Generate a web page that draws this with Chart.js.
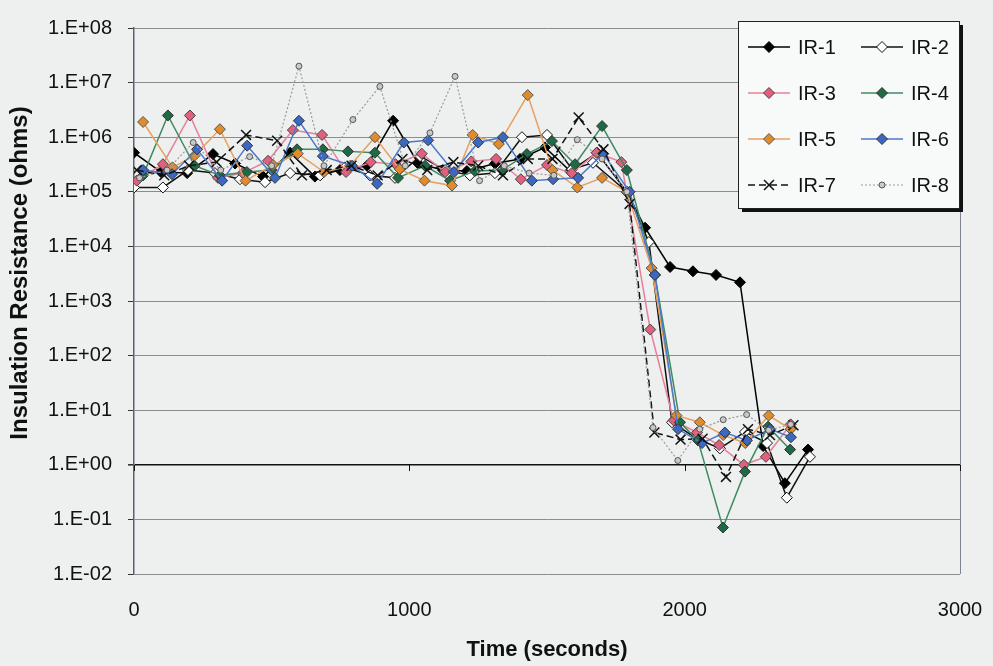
<!DOCTYPE html>
<html>
<head>
<meta charset="utf-8">
<script src="https://cdn.jsdelivr.net/npm/chart.js@4.4.0/dist/chart.umd.min.js"></script>
<style>
	html, body { margin: 0; padding: 0; background: #eef0f0; }
	#root { width: 993px; height: 666px; }
</style>
</head>
<body>
<div id="root"><canvas id="main-chart" width="993" height="666"></canvas></div>
<script>
// readings, time in seconds / resistance in ohms
var seriesNames = ['IR-1', 'IR-2', 'IR-3', 'IR-4', 'IR-5', 'IR-6', 'IR-7', 'IR-8'];

var ir1Time = [0, 98, 193, 287, 367, 469, 567, 657, 748, 846, 941, 1032, 1122, 1209, 1311, 1402, 1493, 1584, 1682, 1790, 1856, 1947, 2030, 2114, 2201, 2285, 2364, 2448];
var ir1Ohms = [5.2e5, 2.3e5, 2.2e5, 4.9e5, 3.3e5, 1.9e5, 5.2e5, 1.9e5, 2.5e5, 3.0e5, 2.0e6, 3.3e5, 2.5e5, 2.4e5, 3.3e5, 4.0e5, 6.5e5, 2.4e5, 5.2e5, 1.0e5, 2.2e4, 4.2e3, 3.5e3, 3.0e3, 2.2e3, 2.2, 0.46, 1.9];

var ir2Time = [0, 105, 196, 294, 385, 476, 567, 676, 766, 857, 948, 1039, 1130, 1220, 1311, 1409, 1500, 1591, 1667, 1790, 1870, 1954, 2045, 2128, 2219, 2299, 2371, 2455];
var ir2Ohms = [1.2e5, 1.2e5, 2.5e5, 2.2e5, 1.7e5, 1.5e5, 2.2e5, 2.0e5, 2.8e5, 2.0e5, 1.8e5, 4.5e5, 2.5e5, 2.0e5, 2.2e5, 1.0e6, 1.1e6, 2.6e5, 3.4e5, 1.0e5, 1.2e4, 6, 3, 2, 4, 2.5, 0.25, 1.4];

var ir3Time = [10, 105, 203, 305, 395, 487, 577, 683, 770, 860, 950, 1045, 1130, 1225, 1315, 1405, 1500, 1590, 1680, 1770, 1875, 1960, 2045, 2125, 2215, 2295, 2385];
var ir3Ohms = [1.6e5, 3.2e5, 2.5e6, 1.8e5, 2.2e5, 3.7e5, 1.35e6, 1.1e6, 2.3e5, 3.5e5, 3.2e5, 5.0e5, 2.3e5, 3.6e5, 4.0e5, 1.7e5, 3.1e5, 2.2e5, 5.2e5, 3.5e5, 3.0e2, 6.5, 3.9, 2.3, 1.0, 1.4, 5.5];

var ir4Time = [33, 123, 220, 312, 410, 500, 592, 686, 777, 875, 959, 1057, 1148, 1238, 1337, 1427, 1518, 1602, 1700, 1790, 1892, 1983, 2048, 2139, 2219, 2303, 2383];
var ir4Ohms = [2.0e5, 2.5e6, 3.0e5, 2.0e5, 2.3e5, 2.5e5, 6.0e5, 6.0e5, 5.5e5, 5.2e5, 1.8e5, 3.0e5, 1.6e5, 2.4e5, 2.5e5, 4.9e5, 8.5e5, 3.2e5, 1.6e6, 2.5e5, 3.0e3, 6, 2.8, 0.071, 0.75, 5, 1.9];

var ir5Time = [33, 140, 220, 312, 405, 505, 595, 690, 785, 875, 965, 1055, 1155, 1230, 1325, 1430, 1520, 1610, 1700, 1790, 1880, 1970, 2055, 2140, 2220, 2305, 2385];
var ir5Ohms = [1.9e6, 2.8e5, 4.6e5, 1.4e6, 1.6e5, 3.1e5, 5.0e5, 2.3e5, 3.0e5, 1.0e6, 2.6e5, 1.6e5, 1.3e5, 1.1e6, 7.5e5, 5.9e6, 2.5e5, 1.2e5, 1.8e5, 1.0e5, 4.0e3, 8, 6, 3.5, 2.5, 8, 4.5];

var ir6Time = [33, 138, 229, 320, 411, 512, 599, 686, 792, 883, 980, 1068, 1162, 1250, 1340, 1445, 1522, 1613, 1704, 1800, 1892, 1976, 2063, 2146, 2226, 2310, 2386];
var ir6Ohms = [2.5e5, 2.1e5, 6.0e5, 1.6e5, 7.0e5, 1.8e5, 2.0e6, 4.5e5, 3.0e5, 1.4e5, 8.0e5, 8.8e5, 2.3e5, 8.0e5, 1.0e6, 1.6e5, 1.7e5, 1.8e5, 5.0e5, 1.0e5, 3.0e3, 4.5, 2.5, 3.9, 2.8, 4.5, 3.2];

var ir7Time = [10, 110, 200, 300, 407, 520, 610, 700, 790, 885, 975, 1065, 1160, 1250, 1340, 1430, 1520, 1615, 1705, 1800, 1890, 1985, 2065, 2150, 2230, 2310, 2395];
var ir7Ohms = [2.5e5, 2.0e5, 3.0e5, 3.5e5, 1.1e6, 8.6e5, 2.0e5, 2.5e5, 3.0e5, 2.0e5, 4.0e5, 2.5e5, 3.5e5, 3.0e5, 2.0e5, 4.0e5, 4.0e5, 2.3e6, 6.0e5, 6.0e4, 3.9, 2.9, 3.0, 0.6, 4.5, 3.5, 5.3];

var ir8Time = [20, 120, 215, 315, 420, 500, 599, 690, 795, 893, 985, 1075, 1166, 1255, 1345, 1435, 1525, 1610, 1700, 1790, 1885, 1975, 2055, 2140, 2225, 2305, 2385];
var ir8Ohms = [1.8e5, 2.5e5, 8.0e5, 2.5e5, 4.4e5, 3.0e5, 2.0e7, 3.0e5, 2.1e6, 8.5e6, 3.0e5, 1.2e6, 1.3e7, 1.6e5, 3.0e5, 2.2e5, 2.0e5, 9.0e5, 4.0e5, 1.0e5, 4.8, 1.2, 4.5, 6.7, 8.3, 4.3, 5.5];

var xTicks = [0, 1000, 2000, 3000];
var yTickExps = [-2, -1, 0, 1, 2, 3, 4, 5, 6, 7, 8];

var allTimes = [ir1Time, ir2Time, ir3Time, ir4Time, ir5Time, ir6Time, ir7Time, ir8Time];
var allOhms = [ir1Ohms, ir2Ohms, ir3Ohms, ir4Ohms, ir5Ohms, ir6Ohms, ir7Ohms, ir8Ohms];

// look of each series (line colour, marker fill/edge, marker shape)
var looks = [
	{ line: '#000000', fill: '#000000', edge: '#000000', shape: 'rectRot', r: 5.5, dash: [], lw: 1.5 },
	{ line: '#111111', fill: '#ffffff', edge: '#111111', shape: 'rectRot', r: 5.5, dash: [], lw: 1.5 },
	{ line: '#e8809a', fill: '#e0607e', edge: '#444444', shape: 'rectRot', r: 5.5, dash: [], lw: 1.5 },
	{ line: '#3f8a62', fill: '#1f6a45', edge: '#333333', shape: 'rectRot', r: 5.5, dash: [], lw: 1.5 },
	{ line: '#e8a060', fill: '#e08c2c', edge: '#555555', shape: 'rectRot', r: 5.5, dash: [], lw: 1.5 },
	{ line: '#4c7aca', fill: '#3b69c2', edge: '#333333', shape: 'rectRot', r: 5.5, dash: [], lw: 1.5 },
	{ line: '#111111', fill: '#111111', edge: '#111111', shape: 'crossRot', r: 7, dash: [7, 4], lw: 1.5 },
	{ line: '#9a9a9a', fill: '#c8c8c8', edge: '#555555', shape: 'circle', r: 3, dash: [2, 2], lw: 1.2 }
];

function makeDatasets() {
	var sets = [];
	for (var i = 0; i < seriesNames.length; i++) {
		var lk = looks[i];
		var pts = allTimes[i].map(function (t, j) { return { x: t, y: allOhms[i][j] }; });
		sets.push({
			label: seriesNames[i],
			data: pts,
			showLine: true,
			borderColor: lk.line,
			borderWidth: lk.lw,
			borderDash: lk.dash,
			pointStyle: lk.shape,
			pointRadius: lk.r,
			pointBackgroundColor: lk.fill,
			pointBorderColor: lk.edge,
			pointBorderWidth: lk.shape === 'crossRot' ? 1.5 : 1,
			tension: 0,
			order: seriesNames.length - i
		});
	}
	return sets;
}

function expLabel(v) {
	var e = Math.round(Math.log10(v));
	return '1.E' + (e < 0 ? '-' : '+') + String(Math.abs(e)).padStart(2, '0');
}

var backdrop = {
	id: 'backdrop',
	beforeDraw: function (chart) {
		var c = chart.ctx;
		c.save();
		c.fillStyle = '#eef0f0';
		c.fillRect(0, 0, chart.width, chart.height);
		c.restore();
	}
};

var frame = {
	id: 'frame',
	beforeDatasetsDraw: function (chart) {
		var c = chart.ctx, a = chart.chartArea, xs = chart.scales.x, ys = chart.scales.y;
		c.save();
		c.strokeStyle = '#7c8590';
		c.lineWidth = 1;
		c.beginPath();
		c.moveTo(Math.round(a.right) + 0.5, a.top);
		c.lineTo(Math.round(a.right) + 0.5, a.bottom);
		c.stroke();
		// x axis crosses at 1 ohm, small tick marks there
		var y1 = Math.round(ys.getPixelForValue(1));
		c.strokeStyle = '#111';
		xTicks.forEach(function (t) {
			var px = Math.round(xs.getPixelForValue(t)) + 0.5;
			c.beginPath();
			c.moveTo(px, y1);
			c.lineTo(px, y1 + 6);
			c.stroke();
		});
		c.restore();
	}
};

var sideTitle = {
	id: 'sideTitle',
	afterDraw: function (chart) {
		var c = chart.ctx;
		c.save();
		c.translate(20, 273);
		c.rotate(-Math.PI / 2);
		c.font = 'bold 24px "Liberation Sans", Arial, sans-serif';
		c.fillStyle = '#111';
		c.textAlign = 'center';
		c.textBaseline = 'middle';
		c.fillText('Insulation Resistance (ohms)', 0, 0);
		c.restore();
	}
};

var keyBox = {
	id: 'keyBox',
	afterDraw: function (chart) {
		var c = chart.ctx;
		var bx = 738, by = 21, bw = 221, bh = 187;
		c.save();
		c.fillStyle = '#111';
		c.fillRect(bx + 4, by + 4, bw, bh);
		c.fillStyle = '#f8f9f9';
		c.fillRect(bx, by, bw, bh);
		c.strokeStyle = '#222';
		c.lineWidth = 1;
		c.strokeRect(bx + 0.5, by + 0.5, bw, bh);
		c.font = '20px "Liberation Sans", Arial, sans-serif';
		c.textBaseline = 'middle';
		c.textAlign = 'left';
		for (var i = 0; i < seriesNames.length; i++) {
			var lk = looks[i];
			var col = i % 2, row = Math.floor(i / 2);
			var x0 = col === 0 ? 748 : 861;
			var y = 47 + row * 46;
			c.strokeStyle = lk.line;
			c.lineWidth = lk.lw;
			c.setLineDash(lk.dash);
			c.beginPath();
			c.moveTo(x0, y);
			c.lineTo(x0 + 42, y);
			c.stroke();
			c.setLineDash([]);
			c.fillStyle = lk.fill;
			c.strokeStyle = lk.edge;
			c.lineWidth = lk.shape === 'crossRot' ? 1.5 : 1;
			Chart.helpers.drawPoint(c, { pointStyle: lk.shape, radius: lk.r, borderWidth: c.lineWidth, rotation: 0 }, x0 + 21, y);
			c.fillStyle = '#111';
			c.fillText(seriesNames[i], x0 + 50, y + 1);
		}
		c.restore();
	}
};

function make() {
	var ctx = document.getElementById('main-chart');
	return new Chart(ctx, {
		type: 'scatter',
		data: { datasets: makeDatasets() },
		options: {
			responsive: false,
			animation: false,
			devicePixelRatio: 1,
			layout: { padding: { left: 0, top: 19, right: 33, bottom: 0 } },
			plugins: { legend: { display: false }, tooltip: { enabled: false } },
			scales: {
				x: {
					type: 'linear',
					min: 0,
					max: 3000,
					afterBuildTicks: function (scale) { scale.ticks = xTicks.map(function (v) { return { value: v }; }); },
					afterFit: function (scale) { scale.height = 92; },
					grid: { display: false, drawTicks: true, tickLength: 21 },
					border: { display: false },
					ticks: { padding: 3, color: '#111', font: { family: '"Liberation Sans", Arial, sans-serif', size: 20 }, maxRotation: 0, callback: function (v) { return String(v); } },
					title: { display: true, text: 'Time (seconds)', color: '#111', font: { family: '"Liberation Sans", Arial, sans-serif', size: 22, weight: 'bold' }, padding: { top: 0, bottom: 3 } }
				},
				y: {
					type: 'logarithmic',
					min: 0.01,
					max: 1e8,
					afterBuildTicks: function (scale) { scale.ticks = yTickExps.map(function (e) { return { value: Math.pow(10, e) }; }); },
					afterFit: function (scale) { scale.width = 134; },
					grid: {
						color: function (c) { return c.tick && Math.abs(c.tick.value - 1) < 1e-9 ? '#111111' : '#8c8c8c'; },
						lineWidth: function (c) { return c.tick && Math.abs(c.tick.value - 1) < 1e-9 ? 1.6 : 1; },
						tickLength: 6,
						tickColor: '#333'
					},
					border: { color: '#5a6070', width: 1.5 },
					ticks: { padding: 16, color: '#111', autoSkip: false, font: { family: '"Liberation Sans", Arial, sans-serif', size: 20 }, callback: function (v) { return expLabel(v); } },
					title: { display: false }
				}
			}
		},
		plugins: [backdrop, frame, sideTitle, keyBox]
	});
}

make();
</script>
</body>
</html>
